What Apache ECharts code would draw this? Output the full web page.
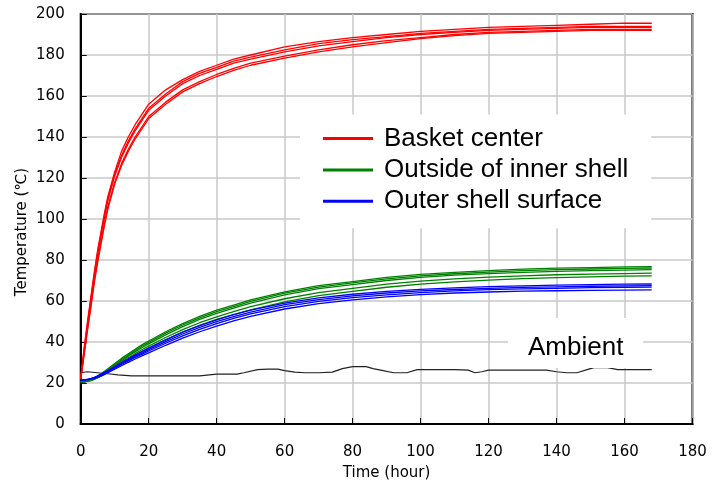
<!DOCTYPE html>
<html>
<head>
<meta charset="utf-8">
<script src="https://cdn.jsdelivr.net/npm/echarts@6/dist/echarts.min.js"></script>
<style>html,body{margin:0;padding:0;background:#fff;}#c{width:720px;height:487px;}</style>
</head>
<body>
<div id="c"></div>
<script>
// Time points (hours) for sensor series
const T = [0,1,2,3,4,5,6,7,8,10,12,14,16,18,20,25,30,35,40,45,50,60,70,80,90,100,110,120,130,140,150,160,168];

// Basket center (red)
const R1 = [22,37,50,62,74,85,94,103,111,123,133,140,146,151,156,163,168,172,175,178,180,184,186.5,188.5,190,191.5,192.5,193.5,194,194.5,195,195.5,195.5];
const R2 = [22,36,49,61,73,84,93,102,110,122,131,138,144,149,154,161,167,171,174,177,179,182.5,185.5,187.5,189,190.5,191.5,192.5,193,193.5,194,194,194];
const R3 = [22,35,48,60,72,83,92,101,109,121,130,137,143,148,153,160,166,170,173,176,178,181.5,184.5,186.5,188.5,190,191,192,192.5,193,193.5,193.5,193.5];
const R4 = [22,34,46,58,70,80,89,98,106,118,127,134,140,145,150,157,163,167,170.5,173.5,176,179.5,182.5,185,187,188.5,190,191,191.5,192,192.5,192.5,192.5];
const R5 = [22,34,46,57,69,79,88,97,105,117,126,133,139,144,149,156,162,166,169.5,172.5,175,178.5,181.5,184,186,188,189.5,190.5,191,191.5,192,192,192];

// Outside of inner shell (green)
const G1 = [20.5,20.6,21,21.6,22.4,23.4,24.5,25.7,27,29.5,32,34.3,36.5,38.6,40.5,45,49,52.5,55.5,58,60.5,64.5,67.5,69.5,71.5,73,74,74.8,75.5,76,76.3,76.6,76.8];
const G2 = [20.5,20.6,21,21.5,22.2,23.1,24.1,25.3,26.5,29,31.4,33.7,35.9,37.9,39.8,44.3,48.3,51.8,54.8,57.3,59.8,63.8,66.8,68.8,70.8,72.3,73.3,74.1,74.8,75.3,75.6,75.9,76.1];
const G3 = [20.5,20.6,20.9,21.4,22,22.9,23.8,24.9,26,28.5,30.8,33.1,35.2,37.2,39.1,43.5,47.5,51,54,56.5,59,63,66,68,70,71.5,72.6,73.4,74,74.5,74.8,75.1,75.3];
const G4 = [20.5,20.6,20.9,21.3,21.9,22.7,23.5,24.5,25.6,27.9,30.1,32.3,34.3,36.2,38,42.2,46,49.4,52.3,54.8,57.2,61.1,64.1,66.2,68.2,69.7,70.8,71.6,72.3,72.8,73.1,73.4,73.6];
const G5 = [20.5,20.5,20.8,21.2,21.8,22.5,23.3,24.2,25.2,27.4,29.5,31.6,33.5,35.3,37,41,44.8,48.1,51,53.4,55.7,59.6,62.6,64.7,66.7,68.2,69.3,70.2,70.9,71.4,71.8,72.1,72.3];

// Outer shell surface (blue)
const B1 = [21.5,21.5,21.8,22.2,22.8,23.5,24.3,25.2,26,28,30,31.8,33.6,35.3,37,41,44.8,48,50.8,53.3,55.5,59,61.5,63.3,64.7,65.7,66.4,67,67.4,67.7,68,68.2,68.3];
const B2 = [21.5,21.5,21.7,22.1,22.6,23.3,24,24.9,25.7,27.6,29.5,31.3,33,34.6,36.3,40.2,43.9,47.1,49.9,52.4,54.6,58.2,60.7,62.5,63.9,64.9,65.6,66.2,66.6,66.9,67.2,67.4,67.5];
const B3 = [21.5,21.5,21.7,22,22.5,23.1,23.8,24.6,25.4,27.2,29,30.8,32.5,34,35.6,39.4,43,46.2,49,51.5,53.7,57.3,59.8,61.6,63,64.1,64.9,65.5,65.9,66.2,66.5,66.7,66.8];
const B4 = [21.5,21.4,21.6,21.9,22.3,22.9,23.5,24.2,25,26.7,28.4,30.1,31.7,33.2,34.7,38.4,41.9,45,47.8,50.3,52.5,56.1,58.7,60.5,62,63.1,63.9,64.4,64.8,65,65.2,65.3,65.4];

// Ambient (black)
const TA = [0,2,5,8,11,15,20,25,30,35,40,43,46,48,52,55,58,60,63,66,70,74,77,80,84,86,89,92,96,99,105,110,114,116,118,120,125,130,137,140,143,146,149,151,155,158,163,168];
const AMB = [25,25.5,25,24.5,24,23.5,23.5,23.5,23.5,23.5,24.3,24.3,24.3,25,26.5,26.8,26.8,26,25.3,25,25,25.3,27,28,28,27,26,25,25,26.5,26.5,26.5,26.3,25,25.5,26.3,26.3,26.3,26.3,25.5,25,25,26.5,27.5,27.5,26.5,26.5,26.5];

const legendNames = ['Basket center','Outside of inner shell','Outer shell surface'];
const groups = [
  {name: legendNames[0], color: '#ff0000', sets: [R1,R2,R3,R4,R5]},
  {name: legendNames[1], color: '#008000', sets: [G1,G2,G3,G4,G5]},
  {name: legendNames[2], color: '#0000ff', sets: [B1,B2,B3,B4]}
];

const zip = (xs, ys) => xs.map((x, i) => [x, ys[i]]);

const series = [];
series.push({
  name: 'Ambient', type: 'line', data: zip(TA, AMB), symbol: 'none',
  lineStyle: {color: '#222', width: 1.2}, itemStyle: {color: '#222'}, z: 3
});
groups.forEach(g => {
  g.sets.forEach(s => {
    series.push({
      name: g.name, type: 'line', data: zip(T, s), symbol: 'none',
      lineStyle: {color: g.color, width: 1.3}, itemStyle: {color: g.color}, z: 3
    });
  });
});

const axisFont = 'DejaVu Sans';
const chart = echarts.init(document.getElementById('c'), null, {renderer: 'canvas'});
chart.setOption({
  animation: false,
  backgroundColor: '#ffffff',
  grid: {left: 80.7, right: 27.5, top: 14, bottom: 63, show: true, borderColor: '#000', borderWidth: 2, backgroundColor: 'transparent'},
  xAxis: {
    type: 'value', min: 0, max: 180, interval: 20,
    name: 'Time (hour)', nameLocation: 'middle', nameGap: 42,
    nameTextStyle: {fontFamily: axisFont, fontSize: 15, color: '#000'},
    axisLine: {show: true, onZero: false, lineStyle: {color: '#000', width: 2}},
    axisTick: {show: true, inside: true, length: 6, lineStyle: {color: '#000', width: 1}},
    axisLabel: {fontFamily: axisFont, fontSize: 15, color: '#000', margin: 21},
    splitLine: {show: true, lineStyle: {color: '#c8c8c8', width: 1.5}}
  },
  yAxis: {
    type: 'value', min: 0, max: 200, interval: 20,
    axisLine: {show: true, lineStyle: {color: '#000', width: 2}},
    axisTick: {show: true, inside: true, length: 6, lineStyle: {color: '#000', width: 1}},
    axisLabel: {fontFamily: axisFont, fontSize: 15, color: '#000', margin: 16},
    splitLine: {show: true, lineStyle: {color: '#c8c8c8', width: 1.5}}
  },
  legend: {
    data: legendNames,
    orient: 'vertical', left: 300, top: 114.5,
    padding: [11, 23, 14, 23],
    backgroundColor: '#ffffff',
    icon: 'rect', itemWidth: 50, itemHeight: 3, itemGap: 5.4,
    textStyle: {fontFamily: 'Liberation Sans', fontSize: 26, color: '#000', lineHeight: 26, padding: [0,0,0,6]},
    selectedMode: false
  },
  graphic: [
    {
      type: 'text', left: 508, top: 318, z: 10,
      style: {text: 'Ambient', fontFamily: 'Liberation Sans', fontSize: 26, fill: '#000',
        backgroundColor: '#ffffff', padding: [17, 20, 7, 20]}
    },
    {
      type: 'text', x: 21.7, y: 232, rotation: Math.PI / 2, z: 10,
      style: {text: 'Temperature (℃)', fontFamily: axisFont, fontSize: 15, fill: '#000', align: 'center', verticalAlign: 'middle'}
    }
  ],
  series: series
});
</script>
</body>
</html>
